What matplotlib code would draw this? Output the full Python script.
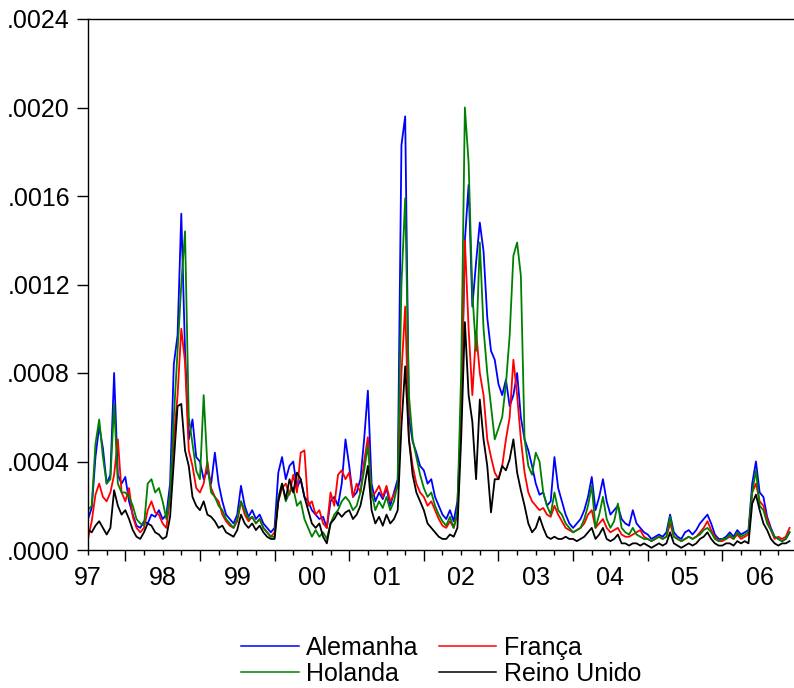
import numpy as np
import matplotlib
matplotlib.use("Agg")
import matplotlib.pyplot as plt

plt.rcParams['font.family'] = ['Liberation Sans', 'DejaVu Sans']

# sampling dates (decimal years), one point every 0.05 year from mid-1997
start_year = 1997.5
step = 0.05

# conditional variances, in units of 1e-4
alemanha = [
    1.4, 1.9, 4.2, 5.6, 4.6, 3.0, 3.4, 8.0, 3.4, 3.0,
    3.3, 2.2, 1.6, 1.1, 1.0, 1.3, 1.2, 1.6, 1.5, 1.8, 1.4, 1.6, 3.0, 8.4, 9.7, 15.2, 9.0, 5.0, 5.9, 4.2,
    4.0, 3.2, 3.6, 3.0, 4.4, 3.0, 2.2, 1.6, 1.4, 1.2, 1.6, 2.9, 2.0, 1.5, 1.8, 1.4, 1.6, 1.2, 1.0, 0.8,
    1.0, 3.5, 4.2, 3.2, 3.8, 4.0, 2.8, 3.2, 2.4, 2.2, 1.8, 1.6, 1.4, 1.5, 1.0, 2.2, 2.4, 2.0, 3.0, 5.0,
    3.8, 2.4, 2.6, 3.2, 5.0, 7.2, 3.0, 2.2, 2.6, 2.3, 2.8, 2.0, 2.6, 3.2, 18.3, 19.6, 6.0, 4.9, 4.4, 3.8,
    3.6, 3.0, 3.2, 2.4, 2.0, 1.6, 1.4, 1.8, 1.3, 2.2, 6.0, 14.0, 16.5, 11.0, 13.0, 14.8, 13.5, 10.5, 9.0, 8.6,
    7.5, 7.0, 7.7, 6.5, 7.0, 8.0, 6.0, 5.0, 4.5, 3.8, 3.0, 2.5, 2.6, 2.0, 2.2, 4.2, 2.8, 2.2, 1.6, 1.2,
    1.0, 1.2, 1.4, 1.8, 2.4, 3.3, 1.8, 2.4, 3.2, 2.2, 1.6, 1.8, 2.0, 1.4, 1.2, 1.1, 1.8, 1.2, 1.0, 0.8,
    0.7, 0.5, 0.6, 0.7, 0.6, 0.8, 1.6, 0.8, 0.6, 0.5, 0.8, 0.9, 0.7, 0.9, 1.2, 1.4, 1.6, 1.2, 0.7, 0.5,
    0.5, 0.6, 0.8, 0.6, 0.9, 0.7, 0.8, 0.9, 3.0, 4.0, 2.6, 2.4, 1.5, 1.0, 0.6, 0.5, 0.4, 0.5, 0.8,
]
franca = [
    0.5, 1.3, 2.5, 3.0, 2.4, 2.2, 2.6, 3.4, 5.0, 2.6,
    2.2, 2.8, 1.5, 1.0, 0.8, 1.0, 1.8, 2.2, 1.7, 1.6, 1.2, 1.0, 2.4, 5.0, 7.0, 10.0, 8.5, 4.5, 3.8, 2.8,
    2.6, 3.0, 4.0, 2.8, 2.4, 2.2, 1.6, 1.3, 1.1, 1.0, 1.3, 2.2, 1.6, 1.3, 1.5, 1.2, 1.4, 1.0, 0.8, 0.6,
    0.8, 2.2, 2.8, 3.0, 2.5, 3.4, 2.6, 4.4, 4.5, 2.0, 2.2, 1.6, 1.8, 1.2, 1.0, 2.6, 2.0, 3.4, 3.6, 3.2,
    3.5, 2.4, 3.0, 2.6, 4.0, 5.1, 2.4, 2.6, 2.9, 2.4, 2.9, 2.2, 2.5, 2.9, 8.0, 11.0, 5.0, 3.8, 3.0, 2.6,
    2.4, 2.0, 2.2, 1.8, 1.4, 1.1, 1.0, 1.3, 1.0, 1.6, 6.0, 14.0, 10.0, 7.0, 9.9, 8.0, 7.0, 5.0, 4.2, 3.5,
    3.2, 3.8, 5.0, 6.0, 8.6, 7.0, 5.0, 3.5, 2.6, 2.2, 2.0, 1.8, 1.9, 1.6, 1.5, 2.0, 1.6, 1.3, 1.0, 0.9,
    0.8, 0.9, 1.0, 1.2, 1.6, 1.8, 1.0, 1.2, 1.4, 1.0, 0.8, 0.9, 1.0, 0.7, 0.6, 0.6, 0.7, 0.8, 0.9, 0.6,
    0.5, 0.4, 0.5, 0.6, 0.5, 0.6, 1.2, 0.6, 0.5, 0.4, 0.5, 0.6, 0.5, 0.6, 0.8, 1.0, 1.3, 0.9, 0.6, 0.4,
    0.4, 0.5, 0.6, 0.5, 0.7, 0.5, 0.6, 0.7, 2.6, 3.0, 2.2, 2.0, 1.4, 0.9, 0.5, 0.6, 0.5, 0.6, 1.0,
]
holanda = [
    1.8, 2.0, 4.8, 5.9, 4.2, 3.0, 3.2, 6.6, 3.0, 2.6,
    2.6, 2.4, 2.0, 1.4, 1.2, 1.1, 3.0, 3.2, 2.6, 2.8, 2.2, 1.4, 2.5, 6.0, 9.0, 12.0, 14.4, 6.0, 4.8, 3.6,
    3.2, 7.0, 3.8, 2.6, 2.4, 2.0, 1.8, 1.4, 1.2, 1.0, 1.4, 2.2, 1.8, 1.4, 1.5, 1.2, 1.4, 1.0, 0.8, 0.6,
    0.6, 2.4, 3.0, 2.2, 2.6, 2.8, 2.0, 2.2, 1.4, 1.0, 0.6, 0.9, 0.6, 0.8, 0.5, 1.2, 1.6, 1.8, 2.2, 2.4,
    2.2, 1.8, 2.0, 2.6, 3.6, 4.7, 2.6, 1.8, 2.2, 1.9, 2.4, 1.8, 2.2, 3.0, 12.0, 15.9, 7.0, 5.0, 4.2, 3.4,
    2.8, 2.4, 2.6, 2.0, 1.6, 1.3, 1.1, 1.5, 1.0, 1.8, 8.0, 20.0, 17.5, 11.6, 9.0, 13.9, 10.0, 8.0, 6.5, 5.0,
    5.5, 6.0, 7.5, 9.7, 13.3, 13.9, 12.4, 5.0, 3.8, 3.4, 4.4, 4.0, 2.6, 2.0, 1.6, 2.6, 1.8, 1.6, 1.2, 1.0,
    0.8, 0.9, 1.0, 1.4, 2.0, 2.9, 1.0, 1.6, 2.4, 1.4, 1.0, 1.3, 2.1, 1.0, 0.8, 0.7, 1.0, 0.7, 0.6, 0.5,
    0.5, 0.4, 0.5, 0.6, 0.5, 0.6, 1.5, 0.6, 0.5, 0.4, 0.5, 0.6, 0.5, 0.6, 0.7, 0.9, 1.0, 0.8, 0.5, 0.4,
    0.5, 0.5, 0.7, 0.5, 0.8, 0.6, 0.7, 0.8, 2.6, 3.6, 2.0, 1.8, 1.2, 0.9, 0.6, 0.5, 0.4, 0.5, 0.8,
]
reino_unido = [
    0.9, 0.8, 1.1, 1.3, 1.0, 0.7, 1.0, 2.7, 2.0, 1.6,
    1.8, 1.4, 0.9, 0.6, 0.5, 0.8, 1.2, 1.1, 0.8, 0.7, 0.5, 0.6, 1.5, 4.0, 6.5, 6.6, 4.5, 3.8, 2.4, 2.0,
    1.8, 2.2, 1.6, 1.5, 1.3, 1.0, 1.1, 0.8, 0.7, 0.6, 0.9, 1.6, 1.2, 1.0, 1.2, 0.9, 1.1, 0.8, 0.6, 0.5,
    0.5, 2.2, 3.0, 2.3, 3.2, 2.6, 3.5, 3.2, 2.4, 1.8, 1.2, 1.0, 1.2, 0.6, 0.3, 1.2, 1.4, 1.7, 1.5, 1.7,
    1.8, 1.4, 1.6, 2.0, 2.8, 3.8, 1.8, 1.2, 1.5, 1.1, 1.6, 1.2, 1.4, 1.8, 5.6, 8.3, 5.0, 3.4, 2.6, 2.2,
    1.8, 1.2, 1.0, 0.8, 0.6, 0.5, 0.5, 0.7, 0.6, 1.0, 5.0, 10.3, 7.0, 5.8, 3.2, 6.8, 5.0, 3.8, 1.7, 3.2,
    3.2, 3.8, 3.6, 4.1, 5.0, 3.5, 2.7, 2.0, 1.2, 0.8, 1.0, 1.5, 1.0, 0.6, 0.5, 0.6, 0.5, 0.5, 0.6, 0.5,
    0.5, 0.4, 0.5, 0.6, 0.8, 1.0, 0.5, 0.7, 1.0, 0.5, 0.4, 0.5, 0.7, 0.3, 0.3, 0.2, 0.3, 0.3, 0.2, 0.3,
    0.2, 0.1, 0.2, 0.3, 0.2, 0.3, 0.8, 0.3, 0.2, 0.1, 0.2, 0.3, 0.2, 0.3, 0.5, 0.6, 0.8, 0.5, 0.3, 0.2,
    0.2, 0.3, 0.3, 0.2, 0.4, 0.3, 0.4, 0.3, 2.1, 2.5, 1.8, 1.2, 0.9, 0.5, 0.3, 0.2, 0.3, 0.3, 0.4,
]

series = [
    ("Alemanha", alemanha, "#0000FF"),
    ("França", franca, "#FF0000"),
    ("Holanda", holanda, "#008000"),
    ("Reino Unido", reino_unido, "#000000"),
]
year_labels = ["97", "98", "99", "00", "01", "02", "03", "04", "05", "06"]

dates = start_year + step * np.arange(len(alemanha))

fig = plt.figure(figsize=(7.94, 6.88), dpi=100)
ax = fig.add_axes([88 / 794, 1 - 550 / 688, 1 - 88 / 794, (550 - 19) / 688])

lines = {}
for name, vals, color in series:
    lines[name], = ax.plot(dates, np.array(vals) * 1e-4, color=color, linewidth=1.3, label=name)

ax.set_xlim(1997.509, 2006.96)
ax.set_ylim(0, 0.0024)

# year boundaries: long ticks, quarters: short ticks, labels at mid-year
ax.set_xticks(np.arange(1998, 2007))
ax.set_xticklabels([])
quarters = np.arange(1997.5, 2007.0, 0.25)
ax.set_xticks(quarters, minor=True)
ax.set_xticklabels([year_labels[int(q) - 1997] if abs(q % 1 - 0.5) < 1e-6 else "" for q in quarters],
                   minor=True)
ax.tick_params(axis='x', which='major', length=8, width=1.0, direction='out')
ax.tick_params(axis='x', which='minor', length=3.6, width=1.0, direction='out', pad=8, labelsize=18)

yt = np.arange(0, 0.00241, 0.0004)
ax.set_yticks(yt)
ax.set_yticklabels([(f"{v:.4f}")[1:] for v in yt])
ax.tick_params(axis='y', length=8, width=1.0, direction='out', pad=5, labelsize=18)

for s in ['left', 'bottom', 'top']:
    ax.spines[s].set_linewidth(1.0)
ax.spines['right'].set_visible(False)

# legend fills column-wise, so order the entries to get rows: Alemanha/França, Holanda/Reino Unido
order = ["Alemanha", "Holanda", "França", "Reino Unido"]
leg = fig.legend([lines[n] for n in order], order, loc='upper left',
                 bbox_to_anchor=(241 / 794, 1 - 636 / 688), ncol=2, frameon=False,
                 fontsize=18, handlelength=2.3, handletextpad=0.3, columnspacing=0.8,
                 labelspacing=0.08, borderpad=0, borderaxespad=0)
for h in leg.legend_handles:
    h.set_linewidth(1.1)

fig.savefig("out.png", dpi=100)
plt.close(fig)
